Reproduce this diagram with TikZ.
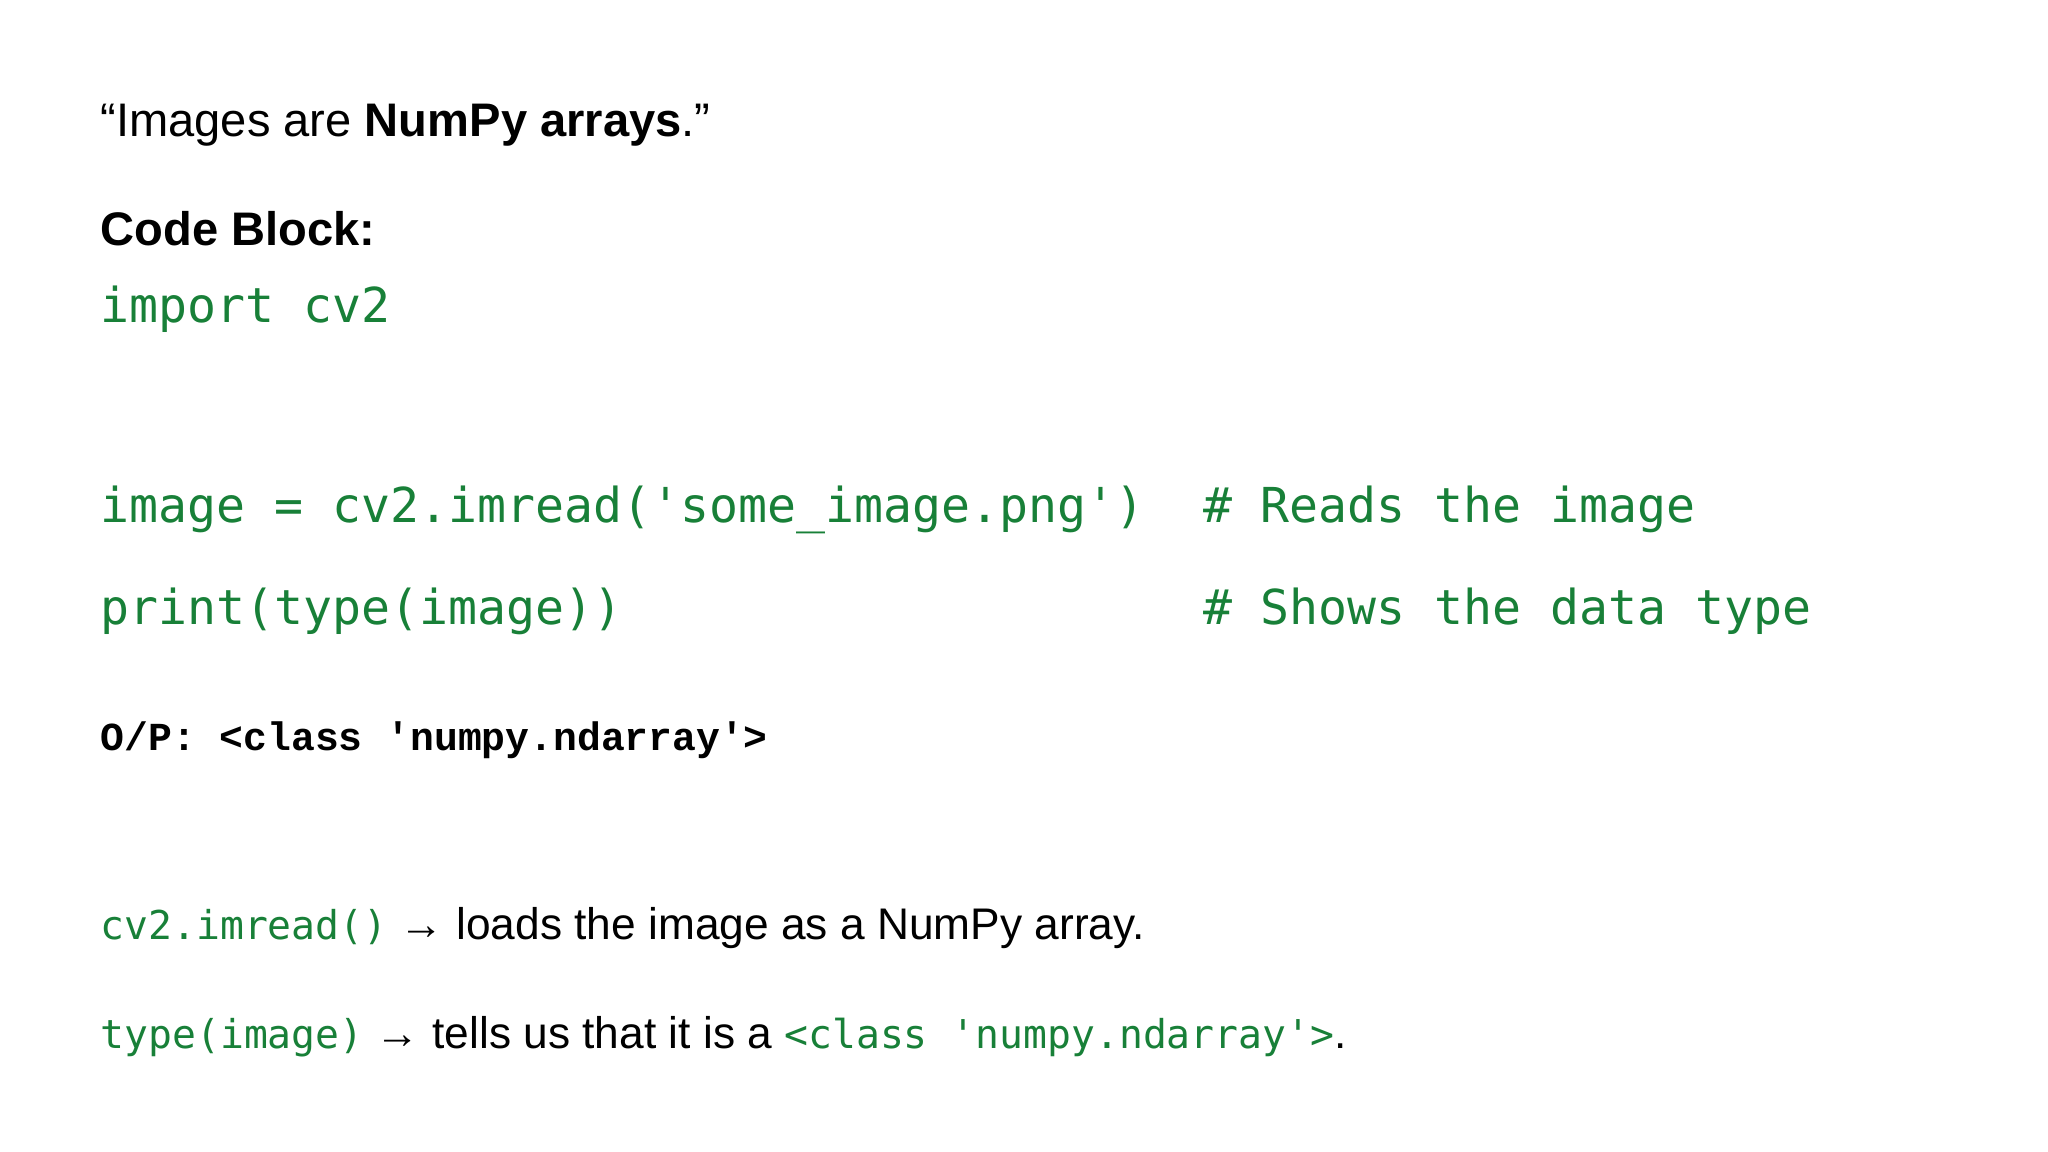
\documentclass[tikz,border=0pt]{standalone}
\usepackage{fontspec}
\setmainfont{Liberation Sans}
\newfontfamily\codefont{DejaVu Sans Mono}
\newfontfamily\opfont{Liberation Mono}
\definecolor{codegreen}{HTML}{188038}
\begin{document}
\begin{tikzpicture}[x=1cm,y=1cm,
  txt/.style={anchor=base west,inner sep=0pt,outer sep=0pt},
  code/.style={txt,text=codegreen,font=\codefont\fontsize{13.7pt}{16pt}\selectfont},
  body/.style={txt,font=\fontsize{13.4pt}{16pt}\selectfont},
  small/.style={txt,font=\fontsize{12.6pt}{15pt}\selectfont}]
\useasboundingbox[fill=white] (0,0) rectangle (20.48,11.52);
\node[body] (title) at (1.006,10.15) {“Images are \textbf{NumPy arrays}.”};
\node[body] (cb) at (1.006,9.065) {\textbf{Code Block:}};
\node[code] (imp) at (1.006,8.294) {import cv2};
\node[code] (l1) at (1.006,6.296) {image = cv2.imread('some\_image.png')};
\node[code] (c1) at (12.03,6.296) {\# Reads the image};
\node[code] (l2) at (1.006,5.277) {print(type(image))};
\node[code] (c2) at (12.03,5.277) {\# Shows the data type};
\node[txt,font=\opfont\bfseries\fontsize{11.3pt}{14pt}\selectfont] (op) at (1.006,4.01) {O/P: <class 'numpy.ndarray'>};
\node[small] (n1) at (1.006,2.12) {{\codefont\color{codegreen}\fontsize{11.3pt}{14pt}\selectfont cv2.imread()} → loads the image as a NumPy array.};
\node[small] (n2) at (1.006,1.033) {{\codefont\color{codegreen}\fontsize{11.3pt}{14pt}\selectfont type(image)} → tells us that it is a {\codefont\color{codegreen}\fontsize{11.3pt}{14pt}\selectfont <class 'numpy.ndarray'>}.};
\end{tikzpicture}
\end{document}
